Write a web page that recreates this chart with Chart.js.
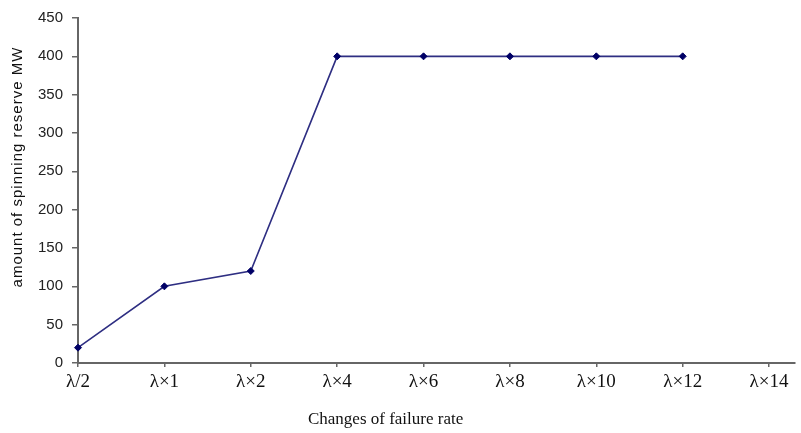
<!DOCTYPE html>
<html>
<head>
<meta charset="utf-8">
<script src="https://cdn.jsdelivr.net/npm/chart.js@4/dist/chart.umd.min.js"></script>
<style>
  body { margin: 0; background: #fff; }
  #wrap { width: 801px; height: 433px; }
</style>
</head>
<body>
<div id="wrap"><canvas id="chart-reserve" width="801" height="433"></canvas></div>
<script>
// DATA //
const rateLabels = ['λ/2', 'λ×1', 'λ×2', 'λ×4', 'λ×6', 'λ×8', 'λ×10', 'λ×12', 'λ×14']
const reserveMW = [20, 100, 120, 400, 400, 400, 400, 400]
const yTicks = [0, 50, 100, 150, 200, 250, 300, 350, 400, 450]

const xTitle = 'Changes of failure rate'
const yTitle = 'amount of spinning reserve MW'

const axisColor = '#666666'

// titles drawn off-centre like the original picture
const axisTitles = {
    id: 'axisTitles',
    afterDraw(chart) {
        const ctx = chart.ctx
        const area = chart.chartArea
        ctx.save()
        ctx.fillStyle = '#111'
        ctx.textAlign = 'center'
        ctx.textBaseline = 'middle'
        ctx.font = '17px "Liberation Serif", "Times New Roman", serif'
        ctx.fillText(xTitle, area.left + (area.right - area.left) * 0.429, 420)
        ctx.translate(18, area.top + (area.bottom - area.top) * 0.432)
        ctx.rotate(-Math.PI / 2)
        ctx.font = '15px "Liberation Sans", Arial, sans-serif'
        ctx.letterSpacing = '1px'
        ctx.fillText(yTitle, 0, 0)
        ctx.restore()
    }
}

const ctx = document.getElementById('chart-reserve').getContext('2d')

new Chart(ctx, {
    type: 'line',
    data: {
        datasets: [{
            label: yTitle,
            data: reserveMW.map((v, i) => ({ x: i, y: v })),
            borderColor: '#2e2e82',
            borderWidth: 1.6,
            pointStyle: 'rectRot',
            pointRadius: 3.5,
            pointBackgroundColor: '#000066',
            pointBorderColor: '#000066',
            pointBorderWidth: 1,
            tension: 0,
            clip: false,
        }]
    },
    options: {
        responsive: false,
        animation: false,
        layout: {
            padding: { top: 16, right: 6, left: 0, bottom: 0 }
        },
        scales: {
            x: {
                type: 'linear',
                min: 0,
                max: 8.3,
                afterFit: s => { s.height = 70 },
                border: { display: true, color: axisColor, width: 2 },
                grid: {
                    drawOnChartArea: false,
                    drawTicks: true,
                    tickLength: 4,
                    color: axisColor,
                    lineWidth: 1.5,
                },
                ticks: {
                    stepSize: 1,
                    includeBounds: false,
                    autoSkip: false,
                    maxRotation: 0,
                    padding: 4,
                    color: '#111',
                    font: { family: '"Liberation Serif", "Times New Roman", serif', size: 19 },
                    callback: v => rateLabels[v] !== undefined ? rateLabels[v] : ''
                }
            },
            y: {
                min: 0,
                max: 450,
                afterFit: s => { s.width = 78 },
                afterBuildTicks: s => { s.ticks = yTicks.map(v => ({ value: v })) },
                border: { display: true, color: axisColor, width: 2 },
                grid: {
                    drawOnChartArea: false,
                    drawTicks: true,
                    tickLength: 6,
                    color: axisColor,
                    lineWidth: 1.5,
                },
                ticks: {
                    padding: 9,
                    color: '#222',
                    font: { family: '"Liberation Sans", Arial, sans-serif', size: 15 },
                }
            }
        },
        plugins: {
            legend: { display: false },
            tooltip: { enabled: false }
        }
    },
    plugins: [axisTitles]
})
</script>
</body>
</html>
